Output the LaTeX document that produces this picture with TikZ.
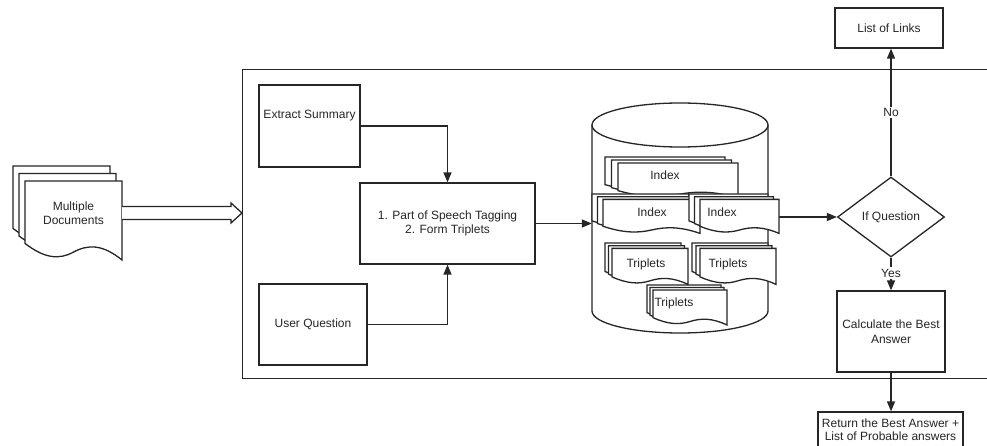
\documentclass[tikz,border=0pt]{standalone}
\usepackage{fontspec}
\setmainfont{Liberation Sans}
\usetikzlibrary{arrows.meta,calc,shapes.geometric}

% A page with a wavy bottom edge; #1,#2 = top-left corner, #3 = width, #4 = height
\newcommand\wavydoc[4]{%
  \draw[docline, shift={(#1,#2)}, xscale=#3, yscale=#4]
    (0,0) -- (1,0) -- (1,1)
    .. controls (0.8,0.8) and (0.65,0.8) .. (0.5,0.9)
    .. controls (0.35,1.0) and (0.2,0.98) .. (0,0.79) -- cycle;}

% Three stacked pages, each shifted by (#5,#6)
\newcommand\docstack[6]{%
  \wavydoc{#1}{#2}{#3}{#4}%
  \wavydoc{#1+#5}{#2+#6}{#3}{#4}%
  \wavydoc{#1+2*#5}{#2+2*#6}{#3}{#4}}

\definecolor{ink}{HTML}{262626}

\begin{document}
\begin{tikzpicture}[x=1pt, y=-1pt,
  font=\fontsize{12}{14.5}\selectfont,
  docline/.style={draw=ink, line width=1.3pt, fill=white, line join=miter},
  box/.style={draw=ink, line width=1.3pt, fill=white, align=center, inner sep=0pt, text=ink},
  lbl/.style={align=center, inner sep=0pt, text=ink},
  conn/.style={draw=ink, line width=1.4pt, -{Triangle[length=10pt,width=8pt]}},
  tag/.style={fill=white, inner sep=1.5pt, text=ink}]

\useasboundingbox (0,0) rectangle (987,446);
\clip (0,0) rectangle (987,446);

% outer frame of the processing stage
\node[box, anchor=north west, minimum width=760, minimum height=309] (frame) at (242,69) {};

% input documents
\docstack{13}{166}{97}{79}{6}{7.5}
\node[lbl, minimum width=97] (docs) at (73.5,213) {Multiple\\Documents};

% hollow input arrow into the frame
\draw[docline] let \p1=(docs.east), \p2=(frame.west) in
  (\x1,\y1+6.5pt) -- (\x2-11pt,\y1+6.5pt) -- (\x2-11pt,\y1+10pt) -- (\x2,\y1)
  -- (\x2-11pt,\y1-10pt) -- (\x2-11pt,\y1-6.5pt) -- (\x1,\y1-6.5pt);

% processing boxes
\node[box, minimum width=101, minimum height=82] (es) at (309.5,126) {Extract Summary\\[8pt]};
\node[box, minimum width=108, minimum height=81] (uq) at (313,324.5) {User Question};
\node[box, minimum width=175, minimum height=81] (pos) at (447.5,223.5)
  {1. Part of Speech Tagging\\2. Form Triplets};

\draw[conn] (es.east) -| (pos.north);
\draw[conn] (uq.east) -| (pos.south);

% decision and outputs
\node[box, shape=diamond, aspect=1.34, minimum width=107, minimum height=80] (dec) at (891,217) {If Question};
\node[box, minimum width=108, minimum height=40] (links) at (889,28) {List of Links};
\node[box, minimum width=108, minimum height=81] (calc) at (891,331.5) {Calculate the Best\\Answer};
\node[box, minimum width=145, minimum height=35, font=\fontsize{12}{13}\selectfont] (ret) at (890.5,429.5)
  {Return the Best Answer +\\List of Probable answers};

% database cylinder
\node[minimum width=176, minimum height=230, inner sep=0pt] (db) at (680,218) {};
\draw[conn] (dec.west -| db.east) -- (dec.west);
\draw[docline] (592,125) -- (592,311)
  arc[start angle=180, end angle=360, x radius=88pt, y radius=22pt] -- (768,125);
\draw[docline] (680,125) ellipse [x radius=88pt, y radius=22pt];

% stored pages
\docstack{605}{157}{120}{35}{6.5}{3}
\node[lbl] (ix1) at (665,175) {Index};
\docstack{592}{194}{97}{34}{5.5}{2.7}
\node[lbl] (ix2) at (652,212) {Index};
\docstack{689}{194}{79}{34}{5.5}{2.7}
\node[lbl] (ix3) at (722,212) {Index};
\docstack{605}{243}{76}{36}{3.5}{2.7}
\node[lbl] (tp1) at (646,264) {Triplets};
\docstack{692}{243}{76}{36}{4}{2.7}
\node[lbl] (tp2) at (728,264) {Triplets};
\docstack{647}{285}{74}{35}{3}{2.5}
\node[lbl] (tp3) at (674,303) {Triplets};

\draw[conn] (pos.east) -- (pos.east -| db.west);

\draw[conn] (dec.north) -- (dec.north |- links.south) node[tag, pos=0.5] {No};
\draw[conn] (dec.south) -- (calc.north) node[tag, pos=0.47] {Yes};
\draw[conn] (calc.south) -- (calc.south |- ret.north);
\end{tikzpicture}
\end{document}
